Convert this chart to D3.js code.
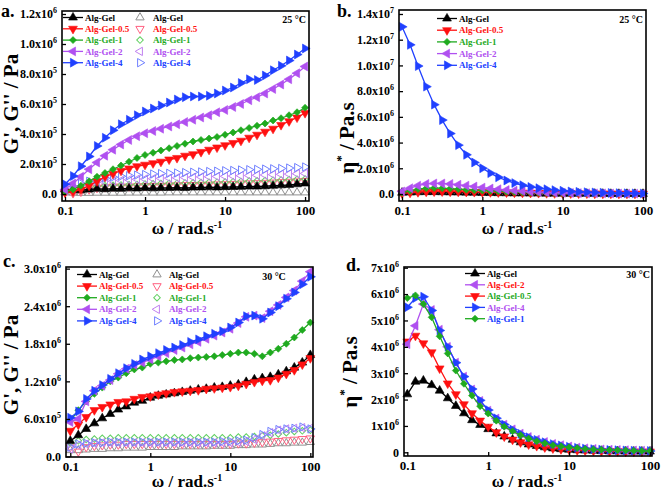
<!DOCTYPE html>
<html><head><meta charset="utf-8">
<script src="https://cdn.jsdelivr.net/npm/d3@7"></script>
<style>
body{margin:0;background:#fff}
svg{display:block}
text{font-family:"Liberation Serif","Times New Roman",serif;font-weight:bold}
</style>
</head><body>
<svg id="chart" width="661" height="492"></svg>
<script>
// ---------- DATA ----------
const omega = [0.1,0.126,0.158,0.2,0.251,0.316,0.398,0.501,0.631,0.794,1,1.26,1.58,2,2.51,3.16,3.98,5.01,6.31,7.94,10,12.6,15.8,20,25.1,31.6,39.8,50.1,63.1,79.4,100];
const sampleNames = ["Alg-Gel","Alg-Gel-0.5","Alg-Gel-1","Alg-Gel-2","Alg-Gel-4"];
const xTickValues = [0.1,1,10,100];
const xTickLabels = ["0.1","1","10","100"];

// Panel a: 25 °C, G' (filled) and G'' (open), unit 1e5 Pa
const aGp_Gel = [0.3,0.28,0.25,0.3,0.35,0.32,0.36,0.35,0.38,0.37,0.4,0.38,0.4,0.41,0.42,0.4,0.43,0.44,0.45,0.44,0.46,0.47,0.48,0.5,0.5,0.52,0.55,0.58,0.6,0.65,0.7];
const aGp_05  = [0.1,0.15,0.3,0.55,0.85,1.15,1.35,1.55,1.7,1.85,1.95,2.05,2.15,2.3,2.4,2.55,2.65,2.8,2.95,3.1,3.25,3.4,3.55,3.75,3.95,4.15,4.35,4.6,4.85,5.1,5.4];
const aGp_1   = [0.15,0.3,0.55,0.85,1.15,1.4,1.65,1.9,2.15,2.4,2.6,2.75,2.9,3.05,3.2,3.35,3.5,3.6,3.7,3.8,3.95,4.1,4.25,4.4,4.55,4.7,4.9,5.05,5.25,5.45,5.75];
const aGp_2   = [0.3,0.7,1.15,1.65,2.1,2.55,2.95,3.3,3.6,3.85,4.05,4.2,4.35,4.5,4.65,4.8,4.95,5.1,5.25,5.45,5.6,5.8,6.0,6.25,6.45,6.7,7.0,7.3,7.65,8.05,8.5];
const aGp_4   = [0.65,1.2,1.85,2.5,3.2,3.75,4.25,4.65,4.95,5.25,5.5,5.7,5.9,6.1,6.3,6.45,6.5,6.5,6.55,6.7,6.9,7.1,7.4,7.65,7.6,7.9,8.25,8.55,8.9,9.3,9.7];
const aGpp_Gel = [0.1,0.08,0.07,0.07,0.08,0.08,0.08,0.08,0.09,0.09,0.09,0.09,0.09,0.1,0.1,0.1,0.1,0.1,0.1,0.1,0.1,0.1,0.1,0.1,0.1,0.1,0.1,0.1,0.1,0.1,0.1];
const aGpp_05  = [0.1,0.05,0.15,0.3,0.4,0.45,0.5,0.5,0.5,0.52,0.53,0.55,0.55,0.57,0.58,0.6,0.6,0.62,0.63,0.65,0.66,0.68,0.7,0.72,0.73,0.75,0.77,0.8,0.82,0.85,0.88];
const aGpp_1   = [0.1,0.2,0.35,0.45,0.5,0.55,0.58,0.6,0.62,0.64,0.66,0.68,0.7,0.71,0.72,0.74,0.75,0.76,0.78,0.79,0.8,0.82,0.84,0.86,0.88,0.9,0.92,0.94,0.96,0.98,1.0];
const aGpp_2   = [0.2,0.35,0.5,0.6,0.7,0.78,0.85,0.9,0.95,0.98,1.0,1.02,1.04,1.06,1.08,1.1,1.12,1.14,1.15,1.17,1.18,1.2,1.22,1.23,1.25,1.27,1.29,1.31,1.33,1.35,1.37];
const aGpp_4   = [0.3,0.5,0.7,0.85,0.95,1.05,1.12,1.18,1.22,1.26,1.3,1.33,1.36,1.38,1.4,1.43,1.45,1.47,1.5,1.52,1.55,1.57,1.6,1.62,1.64,1.66,1.68,1.7,1.73,1.76,1.8];
const aYTicks = [0,2e5,4e5,6e5,8e5,1e6,1.2e6];
const aYLabels = [["0.0",""],["2.0x10","5"],["4.0x10","5"],["6.0x10","5"],["8.0x10","5"],["1.0x10","6"],["1.2x10","6"]];

// Panel b: 25 °C, complex viscosity, unit 1e6 Pa.s
const bEta_Gel = [0.1,0.12,0.14,0.15,0.15,0.14,0.13,0.12,0.11,0.1,0.09,0.08,0.07,0.06,0.05,0.05,0.04,0.04,0.03,0.03,0.03,0.02,0.02,0.02,0.02,0.02,0.01,0.01,0.01,0.01,0.01];
const bEta_05  = [0.05,0.1,0.15,0.18,0.2,0.2,0.19,0.18,0.17,0.16,0.15,0.14,0.13,0.12,0.11,0.1,0.09,0.08,0.07,0.06,0.05,0.05,0.04,0.04,0.03,0.03,0.03,0.02,0.02,0.02,0.02];
const bEta_1   = [0.1,0.25,0.38,0.45,0.47,0.45,0.42,0.38,0.34,0.3,0.27,0.24,0.21,0.18,0.15,0.13,0.11,0.1,0.08,0.07,0.06,0.05,0.05,0.04,0.04,0.03,0.03,0.03,0.02,0.02,0.02];
const bEta_2   = [0.2,0.45,0.65,0.78,0.82,0.82,0.78,0.72,0.65,0.58,0.5,0.43,0.37,0.31,0.26,0.22,0.18,0.15,0.12,0.1,0.09,0.08,0.07,0.06,0.05,0.05,0.04,0.04,0.03,0.03,0.03];
const bEta_4   = [13.0,11.6,9.95,8.35,6.95,5.75,4.7,3.8,3.05,2.45,2.0,1.62,1.3,1.05,0.85,0.68,0.55,0.45,0.37,0.3,0.25,0.2,0.17,0.14,0.12,0.1,0.08,0.07,0.06,0.05,0.04];
const bYTicks = [0,2e6,4e6,6e6,8e6,1e7,1.2e7,1.4e7];
const bYLabels = [["0.0",""],["2.0x10","6"],["4.0x10","6"],["6.0x10","6"],["8.0x10","6"],["1.0x10","7"],["1.2x10","7"],["1.4x10","7"]];

// Panel c: 30 °C, G' (filled) and G'' (open), unit 1e6 Pa
const cGp_Gel = [0.25,0.34,0.44,0.53,0.61,0.68,0.75,0.8,0.86,0.89,0.94,0.97,0.99,1.01,1.03,1.05,1.07,1.08,1.1,1.11,1.13,1.15,1.19,1.23,1.25,1.27,1.31,1.36,1.42,1.5,1.62];
const cGp_05  = [0.41,0.51,0.63,0.74,0.79,0.83,0.87,0.88,0.92,0.95,0.96,0.99,1.01,1.03,1.04,1.05,1.06,1.08,1.09,1.1,1.11,1.13,1.16,1.19,1.21,1.22,1.26,1.32,1.38,1.47,1.57];
const cGp_1   = [0.57,0.74,0.88,1.0,1.1,1.2,1.26,1.33,1.39,1.42,1.48,1.5,1.52,1.54,1.55,1.57,1.58,1.59,1.6,1.62,1.64,1.66,1.66,1.64,1.6,1.66,1.72,1.8,1.9,2.02,2.14];
const cGp_2   = [0.55,0.6,0.88,1.05,1.13,1.22,1.32,1.4,1.46,1.5,1.55,1.6,1.65,1.7,1.74,1.79,1.83,1.88,1.93,1.98,2.04,2.13,2.23,2.25,2.21,2.32,2.42,2.54,2.65,2.8,2.95];
const cGp_4   = [0.62,0.72,0.92,1.05,1.14,1.24,1.33,1.41,1.48,1.55,1.6,1.65,1.7,1.74,1.78,1.83,1.87,1.92,1.96,2.0,2.06,2.14,2.24,2.25,2.2,2.3,2.4,2.52,2.62,2.75,2.87];
const cGpp_Gel = [0.1,0.1,0.11,0.12,0.12,0.13,0.13,0.14,0.14,0.14,0.15,0.15,0.15,0.15,0.16,0.16,0.16,0.16,0.17,0.17,0.17,0.18,0.18,0.19,0.19,0.2,0.21,0.21,0.22,0.22,0.23];
const cGpp_05  = [0.15,0.08,0.15,0.17,0.18,0.19,0.19,0.2,0.2,0.2,0.2,0.2,0.2,0.2,0.2,0.2,0.2,0.2,0.2,0.2,0.2,0.21,0.21,0.22,0.23,0.24,0.25,0.26,0.27,0.28,0.29];
const cGpp_1   = [0.22,0.25,0.27,0.28,0.29,0.29,0.3,0.3,0.3,0.3,0.3,0.3,0.3,0.3,0.3,0.3,0.3,0.3,0.3,0.3,0.3,0.31,0.31,0.32,0.33,0.34,0.36,0.38,0.4,0.41,0.42];
const cGpp_2   = [0.12,0.18,0.2,0.21,0.22,0.22,0.22,0.22,0.22,0.22,0.22,0.22,0.22,0.22,0.22,0.22,0.22,0.22,0.22,0.22,0.22,0.23,0.24,0.27,0.33,0.38,0.42,0.44,0.45,0.46,0.45];
const cGpp_4   = [0.15,0.2,0.21,0.22,0.22,0.23,0.23,0.23,0.23,0.23,0.23,0.23,0.23,0.23,0.23,0.23,0.23,0.23,0.23,0.24,0.24,0.25,0.26,0.3,0.35,0.4,0.43,0.44,0.45,0.47,0.44];
const cYTicks = [0,6e5,1.2e6,1.8e6,2.4e6,3e6];
const cYLabels = [["0.0",""],["6.0x10","5"],["1.2x10","6"],["1.8x10","6"],["2.4x10","6"],["3.0x10","6"]];

// Panel d: 30 °C, complex viscosity, unit 1e6 Pa.s
const dEta_Gel = [2.2,2.68,2.72,2.55,2.34,2.05,1.76,1.48,1.22,1.04,0.88,0.72,0.6,0.48,0.38,0.3,0.24,0.19,0.15,0.12,0.1,0.08,0.07,0.06,0.05,0.04,0.04,0.03,0.03,0.03,0.03];
const dEta_05  = [4.2,4.42,4.13,3.79,3.18,2.61,2.2,1.82,1.48,1.2,0.97,0.76,0.6,0.48,0.38,0.3,0.24,0.19,0.15,0.12,0.1,0.08,0.07,0.06,0.05,0.04,0.04,0.03,0.03,0.03,0.03];
const dEta_1   = [5.85,5.95,5.62,5.12,4.4,3.75,3.1,2.6,2.15,1.75,1.47,1.2,0.97,0.8,0.65,0.52,0.42,0.34,0.27,0.23,0.19,0.16,0.13,0.11,0.1,0.09,0.08,0.07,0.06,0.05,0.05];
const dEta_2   = [4.1,4.8,5.62,5.4,4.65,4.0,3.4,2.87,2.38,1.95,1.58,1.28,1.05,0.87,0.71,0.58,0.48,0.39,0.32,0.27,0.22,0.18,0.15,0.13,0.11,0.1,0.09,0.08,0.07,0.06,0.06];
const dEta_4   = [5.5,5.85,5.9,5.38,4.62,4.0,3.4,2.87,2.4,1.97,1.6,1.29,1.05,0.86,0.7,0.57,0.47,0.38,0.31,0.26,0.21,0.17,0.14,0.12,0.1,0.09,0.08,0.07,0.06,0.06,0.05];
const dYTicks = [0,1e6,2e6,3e6,4e6,5e6,6e6,7e6];
const dYLabels = [["0",""],["1x10","6"],["2x10","6"],["3x10","6"],["4x10","6"],["5x10","6"],["6x10","6"],["7x10","6"]];

// ---------- STYLE ----------
const col = {"Alg-Gel":"#000000","Alg-Gel-0.5":"#ff1010","Alg-Gel-1":"#1faa1f","Alg-Gel-2":"#b050f0","Alg-Gel-4":"#2040ff"};
const openCol = {"Alg-Gel":"#909090","Alg-Gel-0.5":"#ff6080","Alg-Gel-1":"#60d060","Alg-Gel-2":"#c080f0","Alg-Gel-4":"#7080ff"};
const shape = {"Alg-Gel":"up","Alg-Gel-0.5":"down","Alg-Gel-1":"diamond","Alg-Gel-2":"left","Alg-Gel-4":"right"};
const rotation = {up:0,down:180,left:-90,right:90,diamond:45};
const FONT = '"Liberation Serif","Times New Roman",serif';

const svg = d3.select("#chart");

function symPath(kind, size){
  return kind === "diamond" ? d3.symbol(d3.symbolSquare, size*0.72)() : d3.symbol(d3.symbolTriangle, size)();
}

function drawMarker(g, kind, cx, cy, color, open, size){
  g.append("path").attr("d", symPath(kind, size))
    .attr("transform", `translate(${cx},${cy}) rotate(${rotation[kind]})`)
    .attr("fill", open ? "none" : color)
    .attr("stroke", color).attr("stroke-width", open ? 1 : 0.6);
}

function panel(cfg){
  const g = svg.append("g");
  const x = d3.scaleLog().domain(cfg.xDomain).range([cfg.L, cfg.R]);
  const y = d3.scaleLinear().domain(cfg.yDomain).range([cfg.B, cfg.T]);
  const plot = g.append("g");
  const unit = cfg.unit;
  (cfg.open || []).forEach(s => {
    const sg = plot.append("g");
    s.values.forEach((v,i) => drawMarker(sg, shape[s.name], x(omega[i]), y(v*unit), openCol[s.name], true, 30));
  });
  cfg.filled.forEach(s => {
    const sg = plot.append("g");
    const line = d3.line().x((v,i)=>x(omega[i])).y(v=>y(v*unit));
    sg.append("path").attr("d", line(s.values)).attr("fill","none").attr("stroke", col[s.name]).attr("stroke-width",1.3);
    s.values.forEach((v,i) => drawMarker(sg, shape[s.name], x(omega[i]), y(v*unit), col[s.name], false, 34));
  });
  const xa = g.append("g").attr("transform", `translate(0,${cfg.B})`)
    .call(d3.axisBottom(x).tickValues(xTickValues).tickFormat((d,i)=>xTickLabels[i]).tickSizeInner(-4).tickSizeOuter(0).tickPadding(5));
  xa.select(".domain").remove();
  xa.selectAll(".tick line").attr("stroke","#000").attr("stroke-width",1.3);
  xa.selectAll(".tick text").attr("font-family",FONT).attr("font-weight","bold").attr("font-size",13).attr("fill","#000");
  const ya = g.append("g").attr("transform", `translate(${cfg.L},0)`)
    .call(d3.axisLeft(y).tickValues(cfg.yTicks).tickFormat("").tickSizeInner(-4).tickSizeOuter(0).tickPadding(5));
  ya.select(".domain").remove();
  ya.selectAll(".tick line").attr("stroke","#000").attr("stroke-width",1.3);
  ya.selectAll(".tick text").each(function(d,i){
    const t = d3.select(this).attr("font-family",FONT).attr("font-weight","bold").attr("font-size",12).attr("fill","#000");
    const lab = cfg.yLabels[i];
    t.append("tspan").text(lab[0]);
    if (lab[1]) t.append("tspan").text(lab[1]).attr("font-size",8).attr("dy",-5);
  });
  g.append("rect").attr("x",cfg.L).attr("y",cfg.T).attr("width",cfg.R-cfg.L).attr("height",cfg.B-cfg.T)
    .attr("fill","none").attr("stroke","#000").attr("stroke-width",1.6);
  g.append("text").attr("x",cfg.letter[0]).attr("y",cfg.letter[1]).attr("font-size",18).text(cfg.letter[2]);
  const xt = g.append("text").attr("x",cfg.xTitle[0]).attr("y",cfg.xTitle[1]).attr("text-anchor","middle").attr("font-size",17);
  xt.append("tspan").text("ω / rad.s");
  xt.append("tspan").text("-1").attr("font-size",10).attr("dy",-6);
  const yt = g.append("text").attr("transform",`translate(${cfg.yTitle[0]},${cfg.yTitle[1]}) rotate(-90)`)
    .attr("text-anchor","middle").attr("font-size",cfg.yTitleSize);
  if (cfg.eta){
    yt.append("tspan").text("η");
    yt.append("tspan").text("*").attr("font-size",13).attr("dy",-9);
    yt.append("tspan").text(" / Pa.s").attr("dy",9);
  } else {
    yt.text("G', G'' / Pa");
  }
  g.append("text").attr("x",cfg.temp[0]).attr("y",cfg.temp[1]).attr("text-anchor",cfg.temp[3]).attr("font-size",10).text(cfg.temp[2]);
  const lg = g.append("g");
  cfg.legend.items.forEach((it,i) => {
    const yy = cfg.legend.y0 + i*cfg.legend.dy;
    const L = cfg.legend;
    lg.append("line").attr("x1",L.x1).attr("x2",L.x2).attr("y1",yy).attr("y2",yy).attr("stroke",col[it.name]).attr("stroke-width",1.3);
    drawMarker(lg, shape[it.name], (L.x1+L.x2)/2, yy, col[it.name], false, 34);
    lg.append("text").attr("x",L.tx).attr("y",yy).attr("dy","0.35em").attr("font-size",9).attr("fill",it.textColor).text(it.name);
    if (L.ox){
      drawMarker(lg, shape[it.name], L.ox, yy, openCol[it.name], true, 30);
      lg.append("text").attr("x",L.otx).attr("y",yy).attr("dy","0.35em").attr("font-size",9).attr("fill",it.textColor).text(it.name);
    }
  });
}

const stdLegend = sampleNames.map(n => ({name:n, textColor: col[n]}));

panel({
  L:62, R:309, T:11, B:201, xDomain:[0.0917,112], yDomain:[-0.0467e6,1.22e6], unit:1e5,
  yTicks:aYTicks, yLabels:aYLabels,
  open: [{name:"Alg-Gel",values:aGpp_Gel},{name:"Alg-Gel-0.5",values:aGpp_05},{name:"Alg-Gel-1",values:aGpp_1},{name:"Alg-Gel-2",values:aGpp_2},{name:"Alg-Gel-4",values:aGpp_4}],
  filled: [{name:"Alg-Gel",values:aGp_Gel},{name:"Alg-Gel-0.5",values:aGp_05},{name:"Alg-Gel-1",values:aGp_1},{name:"Alg-Gel-2",values:aGp_2},{name:"Alg-Gel-4",values:aGp_4}],
  letter:[1,17,"a."], xTitle:[187,234], yTitle:[18,104], yTitleSize:21, eta:false,
  temp:[306,23,"25 °C","end"],
  legend:{items:stdLegend, x1:63, x2:83, tx:85, ox:140, otx:153, y0:17.5, dy:11.3}
});

panel({
  L:399, R:646, T:10, B:201, xDomain:[0.0917,109], yDomain:[-0.544e6,1.431e7], unit:1e6,
  yTicks:bYTicks, yLabels:bYLabels,
  filled: [{name:"Alg-Gel",values:bEta_Gel},{name:"Alg-Gel-0.5",values:bEta_05},{name:"Alg-Gel-1",values:bEta_1},{name:"Alg-Gel-2",values:bEta_2},{name:"Alg-Gel-4",values:bEta_4}],
  letter:[337,17,"b."], xTitle:[517,234], yTitle:[354,138], yTitleSize:21, eta:true,
  temp:[643,23,"25 °C","end"],
  legend:{items:stdLegend, x1:437, x2:457, tx:459, y0:18.5, dy:11.7}
});

panel({
  L:66, R:313, T:267, B:457, xDomain:[0.0884,108], yDomain:[-0.008e6,3.026e6], unit:1e6,
  yTicks:cYTicks, yLabels:cYLabels,
  open: [{name:"Alg-Gel",values:cGpp_Gel},{name:"Alg-Gel-0.5",values:cGpp_05},{name:"Alg-Gel-1",values:cGpp_1},{name:"Alg-Gel-2",values:cGpp_2},{name:"Alg-Gel-4",values:cGpp_4}],
  filled: [{name:"Alg-Gel",values:cGp_Gel},{name:"Alg-Gel-0.5",values:cGp_05},{name:"Alg-Gel-1",values:cGp_1},{name:"Alg-Gel-2",values:cGp_2},{name:"Alg-Gel-4",values:cGp_4}],
  letter:[3,267,"c."], xTitle:[187,487], yTitle:[18,365], yTitleSize:21, eta:false,
  temp:[274,280,"30 °C","middle"],
  legend:{items:stdLegend, x1:77, x2:97, tx:99, ox:157, otx:169, y0:274.5, dy:11.6}
});

panel({
  L:404, R:652, T:267, B:456, xDomain:[0.091,105.9], yDomain:[-0.14e6,7.027e6], unit:1e6,
  yTicks:dYTicks, yLabels:dYLabels,
  filled: [{name:"Alg-Gel",values:dEta_Gel},{name:"Alg-Gel-0.5",values:dEta_05},{name:"Alg-Gel-2",values:dEta_2},{name:"Alg-Gel-4",values:dEta_4},{name:"Alg-Gel-1",values:dEta_1}],
  letter:[346,271,"d."], xTitle:[527,487], yTitle:[357,372], yTitleSize:21, eta:true,
  temp:[650,278,"30 °C","end"],
  legend:{items:[
    {name:"Alg-Gel", textColor:col["Alg-Gel"]},
    {name:"Alg-Gel-2", textColor:col["Alg-Gel-0.5"]},
    {name:"Alg-Gel-0.5", textColor:col["Alg-Gel-1"]},
    {name:"Alg-Gel-4", textColor:col["Alg-Gel-2"]},
    {name:"Alg-Gel-1", textColor:col["Alg-Gel-4"]}
  ], x1:465, x2:485, tx:487, y0:273.5, dy:11.3}
});
</script>
</body></html>
